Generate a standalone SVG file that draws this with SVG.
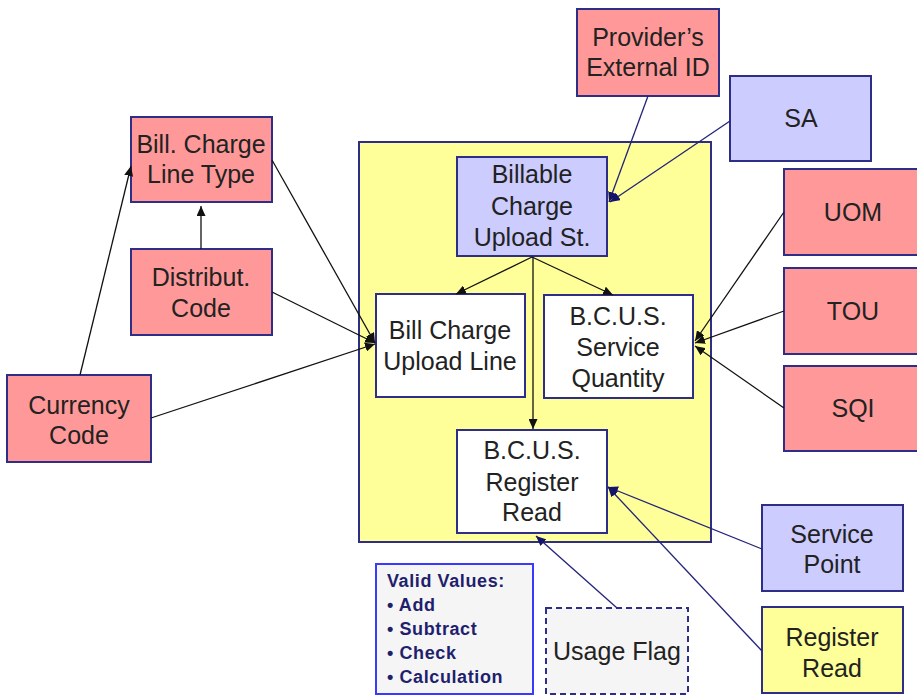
<svg xmlns="http://www.w3.org/2000/svg" width="917" height="698" viewBox="0 0 917 698">
<style>
  .box { stroke: #2e2e88; stroke-width: 2; }
  .red { fill: #ff9999; }
  .lav { fill: #ccccff; }
  .yel { fill: #ffff99; }
  .wht { fill: #ffffff; }
  .lbl { font-family: "Liberation Sans", Arial, sans-serif; font-size: 25px; fill: #222222; text-anchor: middle; }
  .vv { font-family: "Liberation Sans", Arial, sans-serif; font-size: 18px; font-weight: bold; fill: #1f1f6e; letter-spacing: 0.6px; }
  .blk { stroke: #111111; stroke-width: 1.3; fill: none; marker-end: url(#ab); }
  .nav { stroke: #23237a; stroke-width: 1.3; fill: none; marker-end: url(#an); }
</style>
<defs>
  <marker id="ab" markerUnits="userSpaceOnUse" markerWidth="11" markerHeight="9" refX="10" refY="4.5" orient="auto">
    <path d="M0,0 L10,4.5 L0,9 z" fill="#111111"/>
  </marker>
  <marker id="an" markerUnits="userSpaceOnUse" markerWidth="11" markerHeight="9" refX="10" refY="4.5" orient="auto">
    <path d="M0,0 L10,4.5 L0,9 z" fill="#14146a"/>
  </marker>
</defs>
<rect width="917" height="698" fill="#ffffff"/>

<g id="container">
  <rect class="box yel" x="359" y="142" width="352" height="400"/>
</g>

<g id="billable-charge-upload-st">
  <rect class="box lav" x="457" y="157" width="150" height="99"/>
  <text class="lbl" x="532" y="183">Billable</text>
  <text class="lbl" x="532" y="215">Charge</text>
  <text class="lbl" x="532" y="246">Upload St.</text>
</g>
<g id="bill-charge-upload-line">
  <rect class="box wht" x="376" y="294" width="149" height="103"/>
  <text class="lbl" x="450" y="339">Bill Charge</text>
  <text class="lbl" x="450" y="370">Upload Line</text>
</g>
<g id="bcus-service-quantity">
  <rect class="box wht" x="544" y="295" width="149" height="103"/>
  <text class="lbl" x="618" y="325">B.C.U.S.</text>
  <text class="lbl" x="618" y="356">Service</text>
  <text class="lbl" x="618" y="387">Quantity</text>
</g>
<g id="bcus-register-read">
  <rect class="box wht" x="457" y="430" width="150" height="103"/>
  <text class="lbl" x="532" y="459">B.C.U.S.</text>
  <text class="lbl" x="532" y="491">Register</text>
  <text class="lbl" x="532" y="521">Read</text>
</g>

<g id="bill-charge-line-type">
  <rect class="box red" x="131" y="117" width="141" height="85"/>
  <text class="lbl" x="201" y="153">Bill. Charge</text>
  <text class="lbl" x="201" y="183">Line Type</text>
</g>
<g id="distribut-code">
  <rect class="box red" x="131" y="249" width="141" height="86"/>
  <text class="lbl" x="201" y="286">Distribut.</text>
  <text class="lbl" x="201" y="317">Code</text>
</g>
<g id="currency-code">
  <rect class="box red" x="7" y="375" width="144" height="87"/>
  <text class="lbl" x="79" y="414">Currency</text>
  <text class="lbl" x="79" y="444">Code</text>
</g>
<g id="providers-external-id">
  <rect class="box red" x="577" y="9" width="142" height="87"/>
  <text class="lbl" x="648" y="46">Provider’s</text>
  <text class="lbl" x="648" y="76">External ID</text>
</g>
<g id="sa">
  <rect class="box lav" x="730" y="76" width="141" height="85"/>
  <text class="lbl" x="801" y="127">SA</text>
</g>
<g id="uom">
  <rect class="box red" x="784" y="169" width="140" height="86"/>
  <text class="lbl" x="853" y="221">UOM</text>
</g>
<g id="tou">
  <rect class="box red" x="784" y="268" width="140" height="86"/>
  <text class="lbl" x="853" y="320">TOU</text>
</g>
<g id="sqi">
  <rect class="box red" x="784" y="366" width="140" height="85"/>
  <text class="lbl" x="853" y="417">SQI</text>
</g>
<g id="service-point">
  <rect class="box lav" x="762" y="505" width="141" height="86"/>
  <text class="lbl" x="832" y="543">Service</text>
  <text class="lbl" x="832" y="573">Point</text>
</g>
<g id="register-read">
  <rect class="box yel" x="762" y="607" width="141" height="86"/>
  <text class="lbl" x="832" y="646">Register</text>
  <text class="lbl" x="832" y="677">Read</text>
</g>
<g id="usage-flag">
  <rect x="546" y="608" width="142" height="86" fill="#f5f5f5" stroke="#2e2e88" stroke-width="2" stroke-dasharray="6,4"/>
  <text class="lbl" x="617" y="660">Usage Flag</text>
</g>
<g id="valid-values">
  <rect x="376" y="564" width="157" height="130" fill="#f5f5f5" stroke="#3a3aff" stroke-width="2"/>
  <text class="vv" x="387" y="587">Valid Values:</text>
  <text class="vv" x="387" y="611">• Add</text>
  <text class="vv" x="387" y="635">• Subtract</text>
  <text class="vv" x="387" y="659">• Check</text>
  <text class="vv" x="387" y="683">• Calculation</text>
</g>

<g id="connectors">
  <line class="blk" x1="80" y1="375" x2="131" y2="166"/>
  <line class="blk" x1="201" y1="249" x2="201" y2="206"/>
  <line class="blk" x1="272" y1="160" x2="375" y2="343"/>
  <line class="blk" x1="272" y1="292" x2="375" y2="343"/>
  <line class="blk" x1="151" y1="418" x2="375" y2="344"/>
  <line class="blk" x1="532" y1="257" x2="456" y2="294"/>
  <line class="blk" x1="532" y1="257" x2="613" y2="295"/>
  <line class="blk" x1="533" y1="257" x2="533" y2="429"/>
  <line class="nav" x1="648" y1="96" x2="609" y2="202"/>
  <line class="nav" x1="730" y1="121" x2="610" y2="202"/>
  <line class="blk" x1="784" y1="212" x2="695" y2="341"/>
  <line class="blk" x1="784" y1="311" x2="695" y2="343"/>
  <line class="blk" x1="784" y1="408" x2="695" y2="346"/>
  <line class="nav" x1="762" y1="549" x2="608" y2="487"/>
  <line class="nav" x1="762" y1="651" x2="608" y2="487"/>
  <line class="nav" x1="617" y1="608" x2="536" y2="536"/>
</g>
</svg>
